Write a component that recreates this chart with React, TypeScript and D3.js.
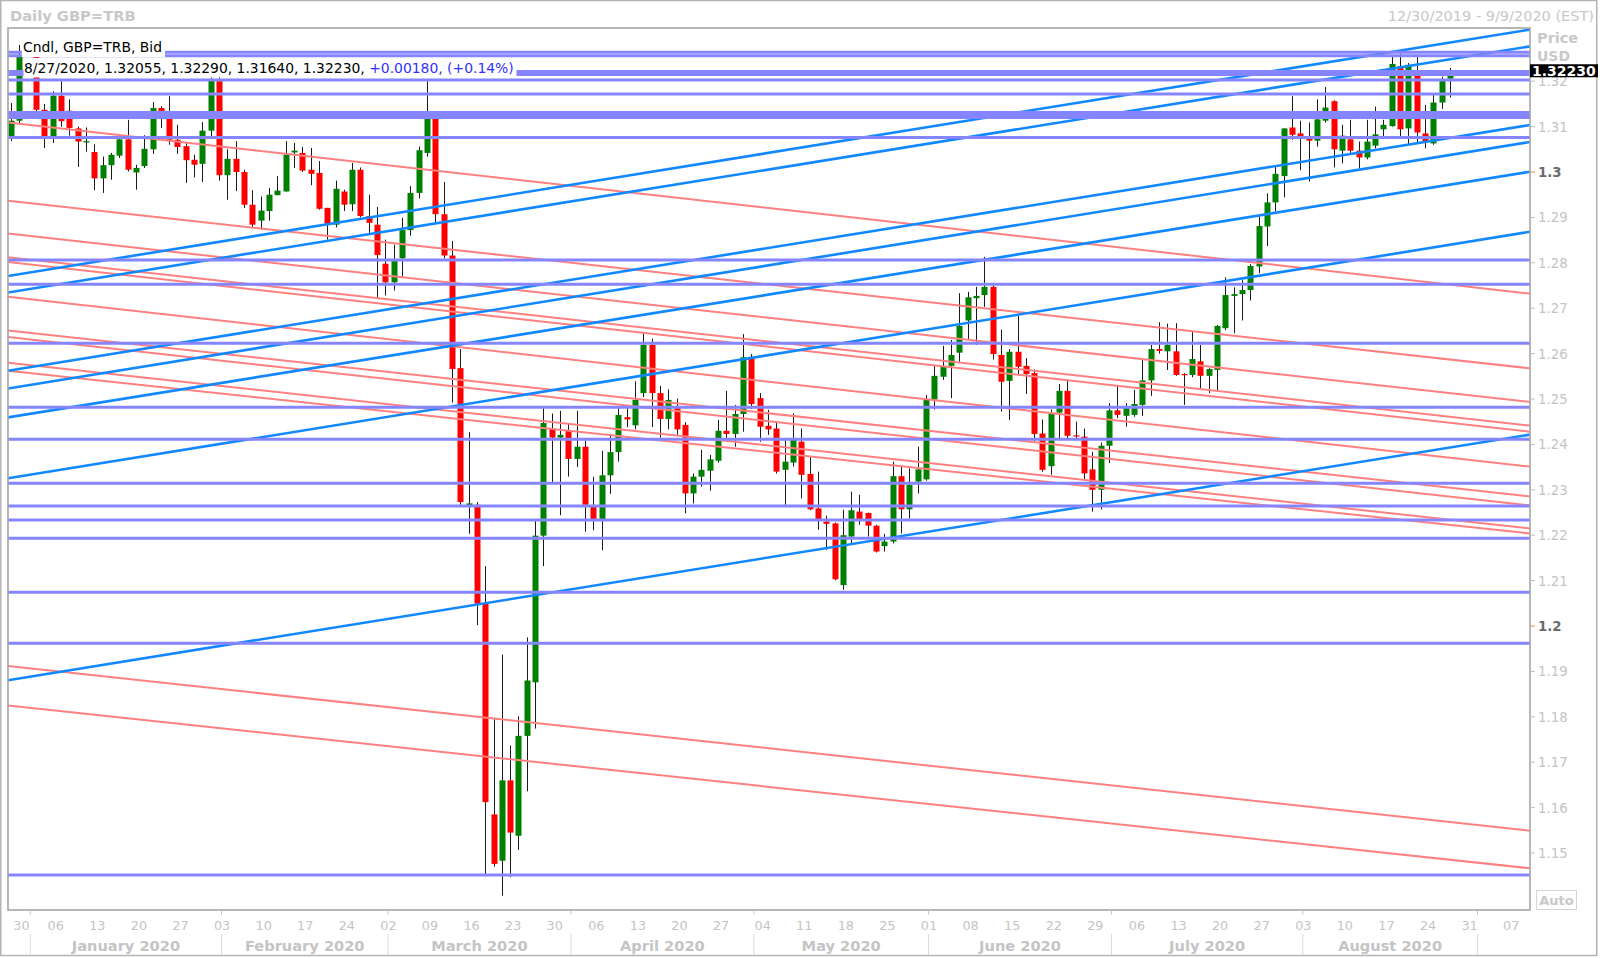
import React from 'react';
import * as d3 from 'd3';

// Daily candles, one slot per weekday starting Monday 30 Dec 2019; null = no trading (1 Jan)
// [open, high, low, close]
const ohlc: ([number, number, number, number] | null)[] = [
  [1.3079, 1.3152, 1.3068, 1.3113], [1.3113, 1.3280, 1.3105, 1.3255], null,
  [1.3255, 1.3282, 1.3118, 1.3137], [1.3137, 1.3150, 1.3053, 1.3077],
  [1.3078, 1.3178, 1.3064, 1.3168], [1.3168, 1.3200, 1.3100, 1.3112], [1.3135, 1.3160, 1.3080, 1.3097],
  [1.3096, 1.3100, 1.3011, 1.3067], [1.3065, 1.3098, 1.3045, 1.3068],
  [1.3044, 1.3061, 1.2960, 1.2986], [1.2986, 1.3034, 1.2954, 1.3015], [1.3015, 1.3042, 1.2983, 1.3038],
  [1.3036, 1.3083, 1.3031, 1.3072], [1.3072, 1.3115, 1.3001, 1.3005],
  [1.2999, 1.3016, 1.2961, 1.3009], [1.3013, 1.3081, 1.3009, 1.3051], [1.3050, 1.3154, 1.3040, 1.3141],
  [1.3141, 1.3145, 1.3097, 1.3130], [1.3125, 1.3167, 1.3060, 1.3071],
  [1.3071, 1.3104, 1.3040, 1.3055], [1.3057, 1.3064, 1.2976, 1.3026], [1.3027, 1.3038, 1.2988, 1.3016],
  [1.3018, 1.3110, 1.2978, 1.3091], [1.3091, 1.3212, 1.3075, 1.3205],
  [1.3200, 1.3210, 1.2981, 1.2993], [1.2993, 1.3050, 1.2939, 1.3029], [1.3029, 1.3068, 1.2958, 1.3000],
  [1.3000, 1.3005, 1.2921, 1.2928], [1.2928, 1.2960, 1.2878, 1.2884],
  [1.2893, 1.2946, 1.2873, 1.2915], [1.2914, 1.2965, 1.2893, 1.2950], [1.2949, 1.2991, 1.2949, 1.2959],
  [1.2957, 1.3068, 1.2957, 1.3038], [1.3043, 1.3064, 1.3009, 1.3047],
  [1.3042, 1.3055, 1.3000, 1.3003], [1.3005, 1.3053, 1.2971, 1.2996], [1.2998, 1.3024, 1.2917, 1.2919],
  [1.2921, 1.2921, 1.2851, 1.2886], [1.2884, 1.2981, 1.2878, 1.2963],
  [1.2957, 1.2961, 1.2914, 1.2928], [1.2929, 1.3020, 1.2914, 1.3005], [1.3005, 1.3010, 1.2900, 1.2903],
  [1.2903, 1.2950, 1.2866, 1.2888], [1.2884, 1.2923, 1.2722, 1.2817],
  [1.2798, 1.2851, 1.2728, 1.2757], [1.2757, 1.2840, 1.2739, 1.2804], [1.2810, 1.2899, 1.2769, 1.2872],
  [1.2872, 1.2969, 1.2860, 1.2954], [1.2954, 1.3056, 1.2942, 1.3048],
  [1.3042, 1.3200, 1.3034, 1.3117], [1.3117, 1.3125, 1.2887, 1.2907], [1.2907, 1.2978, 1.2810, 1.2816],
  [1.2816, 1.2848, 1.2492, 1.2566], [1.2568, 1.2610, 1.2267, 1.2273],
  [1.2266, 1.2427, 1.2203, 1.2270], [1.2267, 1.2273, 1.2002, 1.2049], [1.2049, 1.2132, 1.1453, 1.1612],
  [1.1585, 1.1796, 1.1470, 1.1476], [1.1483, 1.1937, 1.1406, 1.1660],
  [1.1660, 1.1737, 1.1447, 1.1545], [1.1538, 1.1801, 1.1507, 1.1758], [1.1758, 1.1975, 1.1636, 1.1880],
  [1.1876, 1.2232, 1.1774, 1.2199], [1.2199, 1.2480, 1.2132, 1.2447],
  [1.2435, 1.2468, 1.2315, 1.2415], [1.2415, 1.2474, 1.2244, 1.2421], [1.2430, 1.2445, 1.2329, 1.2368],
  [1.2368, 1.2474, 1.2350, 1.2395], [1.2395, 1.2409, 1.2208, 1.2267],
  [1.2265, 1.2329, 1.2211, 1.2232], [1.2232, 1.2386, 1.2167, 1.2332], [1.2332, 1.2421, 1.2291, 1.2383],
  [1.2383, 1.2480, 1.2362, 1.2465], [1.2460, 1.2486, 1.2438, 1.2455],
  [1.2442, 1.2539, 1.2433, 1.2498], [1.2513, 1.2647, 1.2504, 1.2619], [1.2619, 1.2633, 1.2438, 1.2513],
  [1.2513, 1.2529, 1.2415, 1.2456], [1.2456, 1.2521, 1.2433, 1.2498],
  [1.2480, 1.2501, 1.2421, 1.2433], [1.2443, 1.2449, 1.2248, 1.2292], [1.2292, 1.2336, 1.2270, 1.2329],
  [1.2329, 1.2388, 1.2307, 1.2344], [1.2342, 1.2377, 1.2298, 1.2367],
  [1.2364, 1.2454, 1.2360, 1.2430], [1.2430, 1.2518, 1.2413, 1.2423], [1.2423, 1.2487, 1.2395, 1.2467],
  [1.2467, 1.2643, 1.2428, 1.2592], [1.2590, 1.2599, 1.2478, 1.2489],
  [1.2502, 1.2513, 1.2406, 1.2439], [1.2441, 1.2476, 1.2421, 1.2433], [1.2435, 1.2450, 1.2336, 1.2340],
  [1.2344, 1.2413, 1.2267, 1.2362], [1.2360, 1.2468, 1.2351, 1.2410],
  [1.2406, 1.2435, 1.2281, 1.2333], [1.2335, 1.2373, 1.2255, 1.2257], [1.2259, 1.2340, 1.2212, 1.2233],
  [1.2230, 1.2243, 1.2168, 1.2225], [1.2226, 1.2228, 1.2101, 1.2103],
  [1.2090, 1.2256, 1.2080, 1.2200], [1.2197, 1.2296, 1.2180, 1.2255], [1.2252, 1.2289, 1.2223, 1.2232],
  [1.2249, 1.2250, 1.2197, 1.2221], [1.2221, 1.2223, 1.2162, 1.2164],
  [1.2176, 1.2203, 1.2164, 1.2186], [1.2186, 1.2362, 1.2182, 1.2330], [1.2330, 1.2351, 1.2204, 1.2257],
  [1.2257, 1.2347, 1.2237, 1.2311], [1.2318, 1.2395, 1.2292, 1.2345],
  [1.2323, 1.2509, 1.2320, 1.2498], [1.2499, 1.2575, 1.2477, 1.2551], [1.2549, 1.2617, 1.2542, 1.2573],
  [1.2573, 1.2630, 1.2502, 1.2597], [1.2602, 1.2733, 1.2582, 1.2661],
  [1.2673, 1.2736, 1.2630, 1.2724], [1.2722, 1.2747, 1.2619, 1.2727], [1.2729, 1.2813, 1.2703, 1.2747],
  [1.2747, 1.2750, 1.2587, 1.2599], [1.2597, 1.2653, 1.2472, 1.2538],
  [1.2540, 1.2610, 1.2454, 1.2604], [1.2604, 1.2683, 1.2553, 1.2571], [1.2573, 1.2590, 1.2511, 1.2555],
  [1.2557, 1.2565, 1.2406, 1.2423], [1.2424, 1.2455, 1.2340, 1.2344],
  [1.2352, 1.2477, 1.2333, 1.2468], [1.2470, 1.2533, 1.2413, 1.2518], [1.2518, 1.2543, 1.2411, 1.2419],
  [1.2420, 1.2450, 1.2411, 1.2418], [1.2417, 1.2435, 1.2322, 1.2336],
  [1.2345, 1.2384, 1.2252, 1.2300], [1.2300, 1.2404, 1.2257, 1.2397], [1.2397, 1.2491, 1.2359, 1.2475],
  [1.2475, 1.2531, 1.2458, 1.2465], [1.2463, 1.2491, 1.2439, 1.2480],
  [1.2465, 1.2520, 1.2461, 1.2489], [1.2487, 1.2586, 1.2463, 1.2541], [1.2541, 1.2619, 1.2507, 1.2610],
  [1.2610, 1.2669, 1.2600, 1.2606], [1.2605, 1.2666, 1.2564, 1.2619],
  [1.2605, 1.2667, 1.2551, 1.2553], [1.2555, 1.2557, 1.2487, 1.2553], [1.2553, 1.2649, 1.2548, 1.2588],
  [1.2583, 1.2619, 1.2524, 1.2551], [1.2551, 1.2568, 1.2513, 1.2566],
  [1.2564, 1.2663, 1.2519, 1.2661], [1.2656, 1.2768, 1.2652, 1.2729], [1.2727, 1.2746, 1.2645, 1.2731],
  [1.2731, 1.2762, 1.2673, 1.2740], [1.2740, 1.2797, 1.2717, 1.2793],
  [1.2792, 1.2902, 1.2777, 1.2881], [1.2880, 1.2953, 1.2837, 1.2933], [1.2933, 1.3012, 1.2913, 1.2996],
  [1.2991, 1.3096, 1.2944, 1.3096], [1.3098, 1.3167, 1.3071, 1.3082],
  [1.3085, 1.3113, 1.3004, 1.3078], [1.3074, 1.3109, 1.2979, 1.3069], [1.3069, 1.3160, 1.3056, 1.3116],
  [1.3113, 1.3187, 1.3109, 1.3142], [1.3156, 1.3158, 1.3010, 1.3050],
  [1.3047, 1.3104, 1.3019, 1.3080], [1.3072, 1.3115, 1.3041, 1.3047], [1.3047, 1.3067, 1.3008, 1.3032],
  [1.3032, 1.3115, 1.3028, 1.3067], [1.3058, 1.3144, 1.3052, 1.3083],
  [1.3094, 1.3115, 1.3078, 1.3104], [1.3101, 1.3258, 1.3100, 1.3238], [1.3233, 1.3261, 1.3078, 1.3094],
  [1.3096, 1.3240, 1.3060, 1.3236], [1.3214, 1.3254, 1.3063, 1.3087],
  [1.3085, 1.3148, 1.3052, 1.3067], [1.3063, 1.3170, 1.3060, 1.3153], [1.3153, 1.3210, 1.3139, 1.3203],
  [1.32055, 1.32290, 1.31640, 1.32230],
];

// Horizontal support / resistance levels (price)
const horizontalLevels = [
  1.32636, 1.32561, 1.32214, 1.32148, 1.32026, 1.31718, 1.31310, 1.31256, 1.31200, 1.30760,
  1.28062, 1.27526, 1.26227, 1.24817, 1.24112, 1.23143, 1.22643, 1.22335, 1.21932, 1.20742,
  1.19619, 1.14515,
];

// Rising trend lines: [price at left edge, price at right edge]
const blueTrendlines: [number, number][] = [
  [1.27709, 1.33137], [1.27346, 1.32767], [1.25623, 1.31035], [1.25231, 1.30661],
  [1.24595, 1.30007], [1.23253, 1.28683], [1.18806, 1.24216],
];

// Falling trend lines: [price at left edge, price at right edge]
const redTrendlines: [number, number][] = [
  [1.31090, 1.27322], [1.29366, 1.25676], [1.28643, 1.24934], [1.28121, 1.24414],
  [1.28018, 1.24278], [1.27251, 1.23511], [1.26511, 1.22855], [1.26366, 1.22656],
  [1.25797, 1.22150], [1.25623, 1.22037], [1.19119, 1.15491], [1.18249, 1.14663],
];

const priceTicks = [1.32, 1.31, 1.30, 1.29, 1.28, 1.27, 1.26, 1.25, 1.24, 1.23, 1.22, 1.21, 1.20, 1.19, 1.18, 1.17, 1.16, 1.15];
const majorTicks = [1.30, 1.20];
const monthNames = ['January', 'February', 'March', 'April', 'May', 'June', 'July', 'August', 'September', 'October', 'November', 'December'];

const lastBar = { date: '8/27/2020', open: '1.32055', high: '1.32290', low: '1.31640', close: '1.32230', change: '+0.00180', pct: '(+0.14%)' };

const SLOT_FIRST = -0.5;
const SLOT_LAST = 182.5;

function weekdayDate(i: number) {
  const w = Math.floor(i / 5);
  const d = i % 5;
  return new Date(2019, 11, 30 + w * 7 + d);
}

export default function App() {
  const W = 1600, H = 958;
  const PL = 8, PR = 1530, PT = 28, PB = 910;
  const x = d3.scaleLinear().domain([SLOT_FIRST, SLOT_LAST]).range([PL, PR]);
  const y = d3.scaleLinear().domain([1.3, 1.2]).range([172, 626]);
  const font = 'DejaVu Sans';
  const axisGray = '#c4c4c4';

  const slots = d3.range(0, 183);
  const mondays = slots.filter((i) => i % 5 === 0);
  const monthStarts = slots.filter((i) => i > 0 && weekdayDate(i).getMonth() !== weekdayDate(i - 1).getMonth());

  const lastClose = ohlc[ohlc.length - 1]![3];

  return (
    <svg width={W} height={H} style={{ position: 'absolute', left: 0, top: 0, background: '#fff' }} fontFamily={font}>
      <defs>
        <clipPath id="plotClip">
          <rect x={PL} y={PT} width={PR - PL} height={PB - PT} />
        </clipPath>
      </defs>
      <rect x={0} y={0} width={W} height={H} fill="#fff" />
      {/* outer frame */}
      <rect x={0.75} y={0.5} width={1596} height={955} fill="none" stroke="#b4b4b4" strokeWidth={1.5} />

      {/* header */}
      <text x={10} y={21} fontSize={14.7} fontWeight="bold" fill="#c8c8c8">Daily GBP=TRB</text>
      <text x={1594} y={21} fontSize={14.5} fill="#c8c8c8" textAnchor="end">12/30/2019 - 9/9/2020 (EST)</text>

      <g clipPath="url(#plotClip)">
        {/* candles */}
        {ohlc.map((d, i) => {
          if (!d) return null;
          const [o, h, l, c] = d;
          const cx = Math.round(x(i));
          const top = y(Math.max(o, c));
          const bot = y(Math.min(o, c));
          return (
            <g key={i}>
              <rect x={cx - 1} y={y(h)} width={1} height={Math.max(1, y(l) - y(h))} fill="#1a1a1a" />
              <rect x={cx - 3.5} y={top} width={6} height={Math.max(1.2, bot - top)} fill={c >= o ? '#008000' : '#ff0000'} />
            </g>
          );
        })}
        {/* falling lines */}
        {redTrendlines.map(([a, b], k) => (
          <line key={'r' + k} x1={x(SLOT_FIRST)} y1={y(a)} x2={x(SLOT_LAST)} y2={y(b)} stroke="#ff8080" strokeWidth={2} />
        ))}
        {/* rising lines */}
        {blueTrendlines.map(([a, b], k) => (
          <line key={'b' + k} x1={x(SLOT_FIRST)} y1={y(a)} x2={x(SLOT_LAST)} y2={y(b)} stroke="#1288ff" strokeWidth={2.6} />
        ))}
        {/* horizontal levels */}
        {horizontalLevels.map((p, k) => (
          <line key={'h' + k} x1={PL} x2={PR} y1={y(p)} y2={y(p)} stroke="#8585ff" strokeWidth={3} />
        ))}

        {/* legend */}
        <rect x={22} y={38} width={143} height={19} fill="#fff" />
        <text x={23} y={52} fontSize={13.9} fill="#000">Cndl, GBP=TRB, Bid</text>
        <rect x={23.5} y={58} width={493} height={19.5} fill="#fff" />
        <text x={24} y={73} fontSize={13.9} fill="#000">
          {`${lastBar.date}, ${lastBar.open}, ${lastBar.high}, ${lastBar.low}, ${lastBar.close}, `}
          <tspan fill="#3232ff">{`${lastBar.change}, ${lastBar.pct}`}</tspan>
        </text>
      </g>

      {/* plot frame */}
      <rect x={PL} y={PT} width={PR - PL} height={PB - PT} fill="none" stroke="#a6a6a6" strokeWidth={1.6} />

      {/* right price axis */}
      <text x={1537} y={43} fontSize={14.5} fontWeight="bold" fill="#c8c8c8">Price</text>
      <text x={1537} y={61} fontSize={14} fontWeight="bold" fill="#c8c8c8">USD</text>
      {priceTicks.map((p) => {
        const major = majorTicks.some((m) => Math.abs(m - p) < 1e-9);
        return (
          <g key={p}>
            <line x1={PR} x2={PR + 5} y1={y(p)} y2={y(p)} stroke={major ? '#e09040' : '#bdbdbd'} strokeWidth={1} />
            <text x={1538} y={y(p) + 5} fontSize={13.3} fontWeight={major ? 'bold' : 'normal'} fill={major ? '#6a6a6a' : axisGray}>
              {d3.format('')(+p.toFixed(2))}
            </text>
          </g>
        );
      })}
      <rect x={PR} y={y(lastClose) - 6.5} width={68} height={13} fill="#000" />
      <text x={PR + 2} y={y(lastClose) + 5} fontSize={14} fontWeight="bold" fill="#fff">{lastBar.close}</text>
      <rect x={1536.5} y={890.5} width={40} height={19} fill="none" stroke="#d6d6d6" strokeWidth={1} />
      <text x={1556.5} y={905} fontSize={13} fontWeight="bold" fill="#c8c8c8" textAnchor="middle">Auto</text>

      {/* bottom date axis */}
      {mondays.map((i) => (
        <text key={'w' + i} x={Math.max(x(i) + 2, 21.4)} y={930} fontSize={12.8} fill={axisGray} textAnchor="middle">
          {String(weekdayDate(i).getDate()).padStart(2, '0')}
        </text>
      ))}
      {monthStarts.map((i) => (
        <g key={'m' + i}>
          <line x1={x(i) + 1.5} x2={x(i) + 1.5} y1={911} y2={915} stroke="#c8c8c8" />
          <line x1={x(i) + 1.5} x2={x(i) + 1.5} y1={934} y2={955} stroke="#dcdcdc" />
        </g>
      ))}
      {monthStarts.slice(0, -1).map((i, k) => {
        const j = monthStarts[k + 1];
        const dt = weekdayDate(i);
        return (
          <text key={'ml' + i} x={(x(i) + x(j)) / 2 + 1.5} y={951} fontSize={14.6} fontWeight="bold" fill={axisGray} textAnchor="middle">
            {`${monthNames[dt.getMonth()]} ${dt.getFullYear()}`}
          </text>
        );
      })}
    </svg>
  );
}
